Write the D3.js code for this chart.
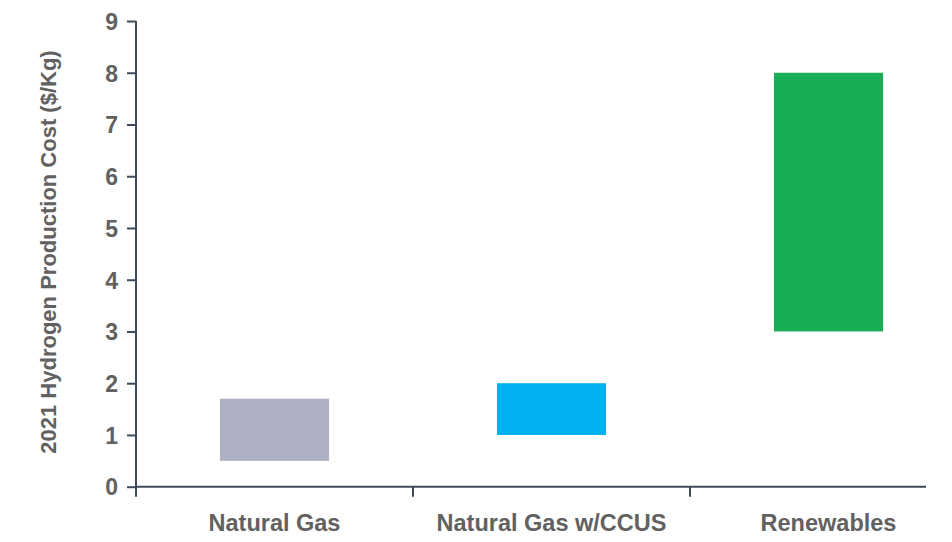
<!DOCTYPE html>
<html>
<head>
<meta charset="utf-8">
<script src="https://cdn.jsdelivr.net/npm/d3@7"></script>
<style>
  body { margin: 0; background: #fff; }
  text { font-family: "Liberation Sans", Arial, sans-serif; font-weight: bold; fill: #616161; }
</style>
</head>
<body>
<svg id="chart" width="952" height="542"></svg>
<script>
// hydrogen production cost ranges, 2021 ($/kg)
var categories = ['Natural Gas', 'Natural Gas w/CCUS', 'Renewables'];
var lowCost = [0.5, 1.0, 3.0];
var highCost = [1.7, 2.0, 8.0];
var barColors = ['#adb0c3', '#00b0ef', '#19ae55'];
var yTicks = [0, 1, 2, 3, 4, 5, 6, 7, 8, 9];

var svg = d3.select('#chart');
var margin = {left: 136, top: 21};
var plotH = 465.7;
var axisLen = 790;   // x axis line stops short of the last band

var g = svg.append('g').attr('transform', 'translate(' + margin.left + ',' + margin.top + ')');

var x = d3.scaleBand().domain(categories).range([0, 831]).paddingInner(0.606).paddingOuter(0.303);
var y = d3.scaleLinear().domain([0, 9]).range([plotH, 0]);

// bars
g.selectAll('rect.bar')
    .data(categories)
  .enter().append('rect')
    .attr('class', 'bar')
    .attr('x', function(d) { return x(d); })
    .attr('width', x.bandwidth())
    .attr('y', function(d, i) { return y(highCost[i]); })
    .attr('height', function(d, i) { return y(lowCost[i]) - y(highCost[i]); })
    .attr('fill', function(d, i) { return barColors[i]; });

// y axis
var yAxis = g.append('g')
    .call(d3.axisLeft(y).tickValues(yTicks).tickSize(9).tickSizeOuter(0).tickPadding(9));
yAxis.select('.domain').remove();
yAxis.selectAll('.tick line').attr('stroke', '#3e4a59').attr('stroke-width', 2);
yAxis.selectAll('.tick text').style('font-size', '23px').attr('dy', '0.36em');

// x axis: ticks at band boundaries
var step = x.step();
var boundaries = categories.map(function(d) { return x(d) - x.paddingOuter() * step; });
g.selectAll('line.xtick')
    .data(boundaries)
  .enter().append('line')
    .attr('x1', function(d) { return d; })
    .attr('x2', function(d) { return d; })
    .attr('y1', plotH)
    .attr('y2', plotH + 10)
    .attr('stroke', '#3e4a59')
    .attr('stroke-width', 2);

g.append('line')
    .attr('x1', 0).attr('x2', 0)
    .attr('y1', 0).attr('y2', plotH)
    .attr('stroke', '#3e4a59').attr('stroke-width', 2);
g.append('line')
    .attr('x1', -1).attr('x2', axisLen)
    .attr('y1', plotH).attr('y2', plotH)
    .attr('stroke', '#3e4a59').attr('stroke-width', 2);

g.selectAll('text.xlabel')
    .data(categories)
  .enter().append('text')
    .attr('class', 'xlabel')
    .attr('x', function(d) { return x(d) + x.bandwidth() / 2; })
    .attr('y', plotH + 44)
    .attr('text-anchor', 'middle')
    .style('font-size', '23.5px')
    .text(function(d) { return d; });

// y axis title
svg.append('text')
    .attr('transform', 'translate(56,252) rotate(-90)')
    .attr('text-anchor', 'middle')
    .style('font-size', '22px')
    .text('2021 Hydrogen Production Cost ($/Kg)');
</script>
</body>
</html>
